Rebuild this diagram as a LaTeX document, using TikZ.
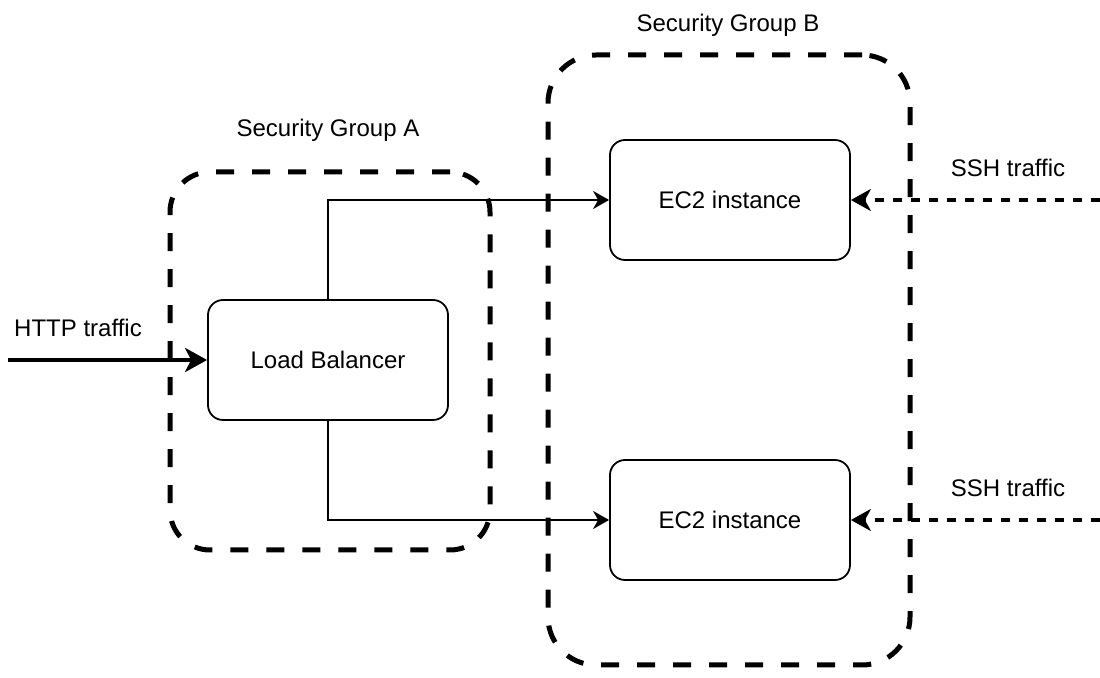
\documentclass[tikz,border=0pt]{standalone}
\usepackage{fontspec}
\setmainfont{Liberation Sans}
\usepackage{tikz}
\usetikzlibrary{arrows.meta, positioning, shapes.geometric}
\tikzstyle{box} = [rectangle, rounded corners=7.5pt, minimum width=120pt, minimum height=60pt, text centered, draw=black, line width=0.9pt]
\tikzstyle{group} = [rectangle, draw=black, line width=2.5pt, dash pattern=on 9pt off 9pt]
\tikzstyle{line} = [line width=1pt, -{Stealth[length=8pt, width=9pt, inset=2.5pt]}]
\tikzstyle{thickline} = [line width=2pt, -{Stealth[length=11pt, width=12pt, inset=3pt]}]
\tikzstyle{sshline} = [line width=1.6pt, dash pattern=on 4.5pt off 4.5pt, -{Stealth[length=10pt, width=11pt, inset=3pt]}]
\tikzstyle{lbl} = [inner sep=0pt]

\begin{document}
\begin{tikzpicture}[x=0.5pt, y=-0.5pt, font=\fontsize{12}{14}\selectfont]
            \useasboundingbox (0,0) rectangle (1100,678);
            \node[group, rounded corners=20pt, minimum width=160pt, minimum height=189pt] (sga) at (330,361) {};
            \node[group, rounded corners=24pt, minimum width=181pt, minimum height=305pt] (sgb) at (729,360) {};
            \node[lbl] (sgalabel) at (328,130) {Security Group A};
            \node[lbl] (sgblabel) at (728,25) {Security Group B};
            \node[box] (lb) at (328,360) {Load Balancer};
            \node[box] (ec2a) at (730,200) {EC2 instance};
            \node[box] (ec2b) at (730,520) {EC2 instance};
            \node[lbl] (httplabel) at (78,328) {HTTP traffic};
            \node[lbl] (sshalabel) at (1008,168) {SSH traffic};
            \node[lbl] (sshblabel) at (1008,488) {SSH traffic};
            \coordinate (http) at (8,360);
            \coordinate (ssha) at (1100,200);
            \coordinate (sshb) at (1100,520);
            \draw[line] (lb.north) |- (ec2a.west);
            \draw[line] (lb.south) |- (ec2b.west);
            \draw[thickline] (http) -- (lb.west);
            \draw[sshline] (ssha) -- (ec2a.east);
            \draw[sshline] (sshb) -- (ec2b.east);
        \end{tikzpicture}
\end{document}
